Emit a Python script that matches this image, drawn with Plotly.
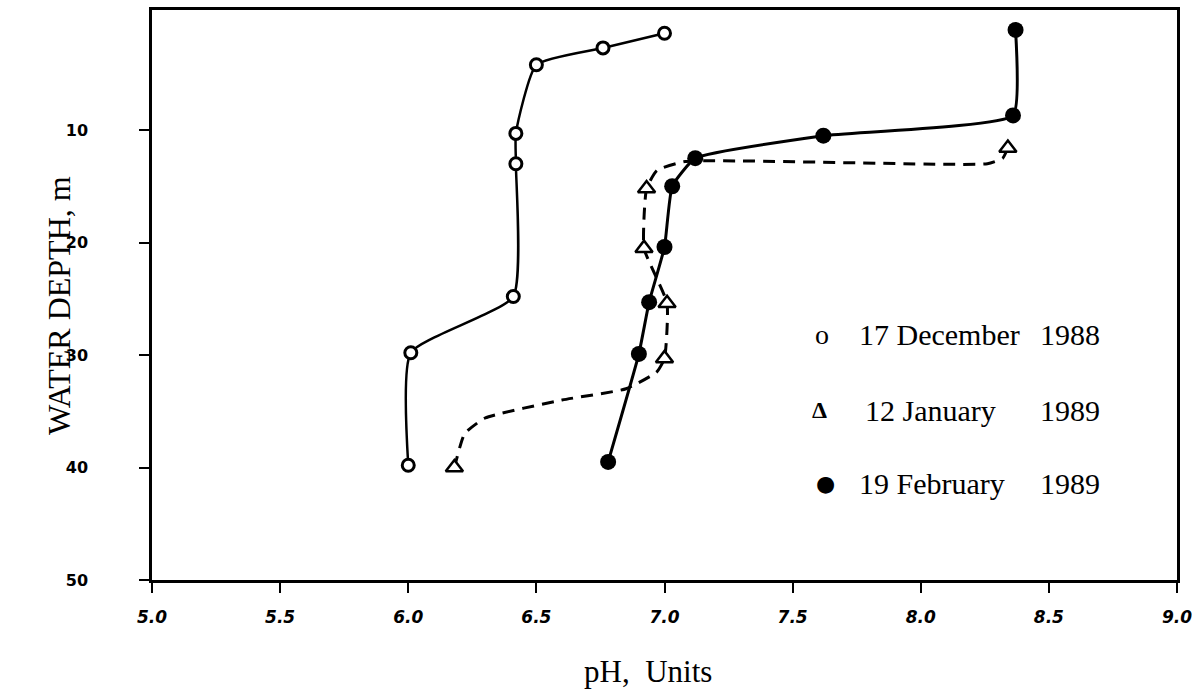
import plotly.graph_objects as go

# pH profiles with depth (m) on three sampling dates
dec_ph = [7.00, 6.76, 6.50, 6.42, 6.42, 6.41, 6.01, 6.00]
dec_depth = [1.4, 2.7, 4.2, 10.3, 13.0, 24.8, 29.8, 39.8]

jan_ph = [8.34, 6.93, 6.92, 7.01, 7.00, 6.18]
jan_depth = [11.6, 15.2, 20.5, 25.4, 30.3, 40.0]

feb_ph = [8.37, 8.36, 7.62, 7.12, 7.03, 7.00, 6.94, 6.90, 6.78]
feb_depth = [1.1, 8.7, 10.5, 12.5, 15.0, 20.4, 25.3, 29.9, 39.5]

# hand-fitted dashed curve through the January profile
jan_curve_ph = [8.34, 8.32, 8.26, 7.08, 6.97, 6.93, 6.92, 7.01, 7.00, 6.97, 6.85, 6.60, 6.30, 6.22, 6.18]
jan_curve_depth = [11.6, 12.5, 13.0, 12.8, 13.6, 15.2, 20.5, 25.4, 30.3, 31.5, 33.0, 34.0, 35.6, 37.0, 40.0]

x_ticks = [5.0, 5.5, 6.0, 6.5, 7.0, 7.5, 8.0, 8.5, 9.0]
x_tick_labels = ["5.0", "5.5", "6.0", "6.5", "7.0", "7.5", "8.0", "8.5", "9.0"]
y_ticks = [10, 20, 30, 40, 50]
y_tick_labels = ["10", "20", "30", "40", "50"]

legend_marks = ["o", "\u0394", "\u25CF"]
legend_dates = ["17 December", "12 January", "19 February"]
legend_years = ["1988", "1989", "1989"]

INK = "black"
SERIF = "Liberation Serif"

fig = go.Figure()

fig.add_trace(go.Scatter(
    x=jan_curve_ph, y=jan_curve_depth, mode="lines",
    line=dict(color=INK, width=3, dash="12px,8px", shape="spline", smoothing=0.45),
    hoverinfo="skip", showlegend=False))

fig.add_trace(go.Scatter(
    x=dec_ph, y=dec_depth, mode="lines+markers", name="17 December 1988",
    line=dict(color=INK, width=2.5, shape="spline", smoothing=0.5),
    marker=dict(symbol="circle", size=12, color="white", line=dict(color=INK, width=3)),
    showlegend=False))

fig.add_trace(go.Scatter(
    x=feb_ph, y=feb_depth, mode="lines+markers", name="19 February 1989",
    line=dict(color=INK, width=3, shape="spline", smoothing=0.4),
    marker=dict(symbol="circle", size=16, color=INK),
    showlegend=False))

fig.add_trace(go.Scatter(
    x=jan_ph, y=jan_depth, mode="markers", name="12 January 1989",
    marker=dict(symbol="triangle-up", size=15, color="white", line=dict(color=INK, width=2.5)),
    showlegend=False))

axis_common = dict(
    showline=True, linecolor=INK, linewidth=2.5, mirror=True,
    ticks="outside", ticklen=10, tickwidth=2, tickcolor=INK,
    showgrid=False, zeroline=False, ticklabeloverflow="allow", automargin=False,
)

fig.update_xaxes(
    range=[5.0, 9.0], tickmode="array", tickvals=x_ticks, ticktext=x_tick_labels,
    tickfont=dict(family="DejaVu Sans", size=17, color=INK, weight="bold", style="italic"),
    ticklabelstandoff=10, **axis_common)

fig.update_yaxes(
    range=[50, -0.67], tickmode="array", tickvals=y_ticks, ticktext=y_tick_labels,
    tickfont=dict(family="DejaVu Sans", size=16, color=INK, weight="bold"),
    ticklabelstandoff=48, **axis_common)

annotations = [
    dict(text="WATER DEPTH, m", x=-0.09, y=0.482, xref="paper", yref="paper",
         textangle=-90, showarrow=False, xanchor="center", yanchor="middle",
         font=dict(family=SERIF, size=32, color=INK)),
    dict(text="pH,  Units", x=0.484, y=-0.161, xref="paper", yref="paper",
         showarrow=False, xanchor="center", yanchor="middle",
         font=dict(family=SERIF, size=31, color=INK)),
]

mark_x = [0.654, 0.651, 0.657]
date_x = [0.688, 0.694, 0.688]
row_y = [0.430, 0.298, 0.170]
mark_font = [dict(family=SERIF, size=28, color=INK),
             dict(family=SERIF, size=24, color=INK, weight="bold"),
             dict(family="DejaVu Sans", size=22, color=INK)]

for i in range(3):
    annotations.append(dict(text=legend_marks[i], x=mark_x[i], y=row_y[i], xref="paper", yref="paper",
                            showarrow=False, xanchor="center", yanchor="middle", font=mark_font[i]))
    annotations.append(dict(text=legend_dates[i], x=date_x[i], y=row_y[i], xref="paper", yref="paper",
                            showarrow=False, xanchor="left", yanchor="middle",
                            font=dict(family=SERIF, size=30, color=INK)))
    annotations.append(dict(text=legend_years[i], x=0.864, y=row_y[i], xref="paper", yref="paper",
                            showarrow=False, xanchor="left", yanchor="middle",
                            font=dict(family=SERIF, size=30, color=INK)))

fig.update_layout(
    width=1192, height=696,
    margin=dict(l=152, r=15, t=10, b=116),
    paper_bgcolor="white", plot_bgcolor="white",
    annotations=annotations,
    showlegend=False,
)

fig.write_html("out.html")
